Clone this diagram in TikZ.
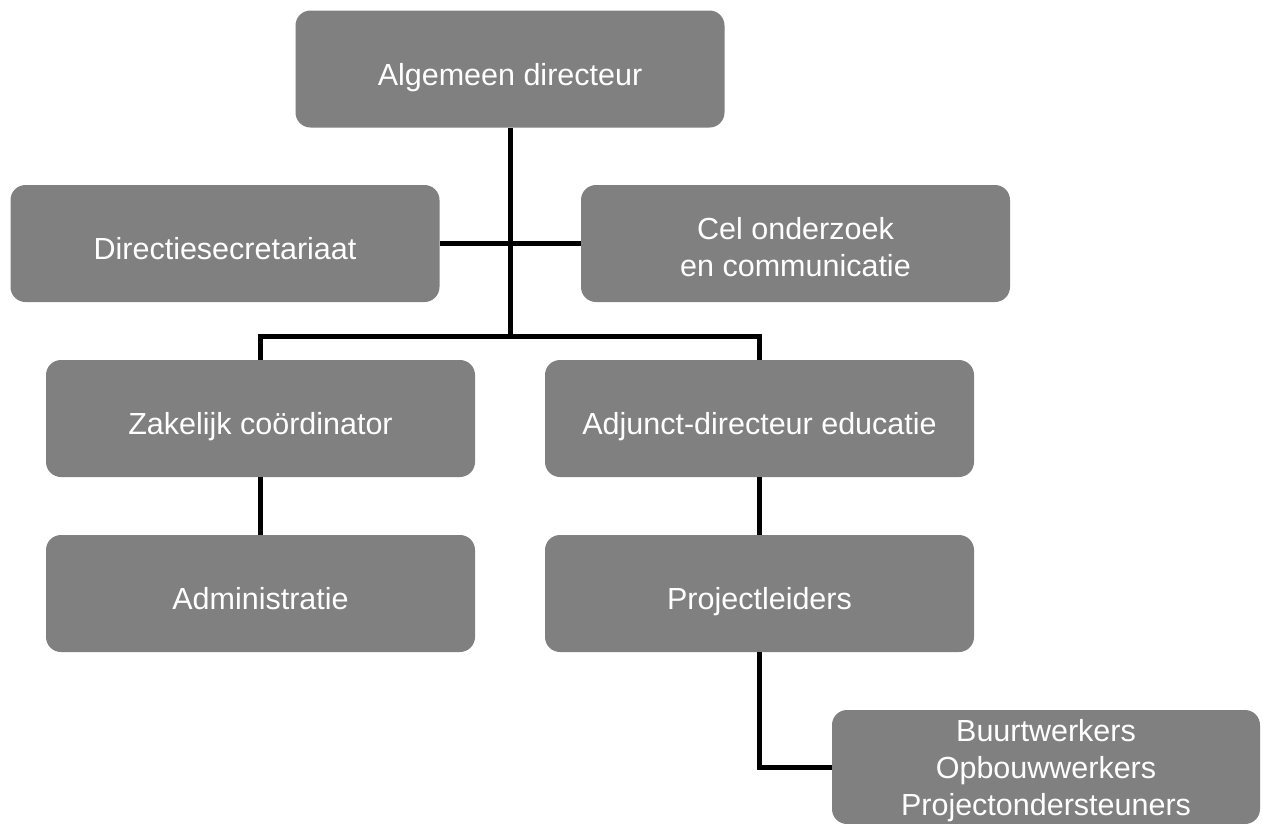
\documentclass[tikz,border=0pt]{standalone}
\usepackage{fontspec}
\setmainfont{Liberation Sans}
\definecolor{boxgray}{HTML}{808080}
\begin{document}
\begin{tikzpicture}[x=1pt,y=-1pt,
  box/.style={draw=none, fill=boxgray, rounded corners=15pt, minimum width=429pt, minimum height=117pt,
    inner sep=0pt},
  lbl/.style={inner sep=0pt, text=white, align=center, font=\fontsize{30.5}{37}\selectfont},
  one/.style={lbl, text height=22pt, text depth=6pt, yshift=-8pt},
  multi/.style={lbl, yshift=-4pt},
  conn/.style={line width=5pt, line join=miter, draw=black}]
\useasboundingbox (0,0) rectangle (1262,823);
\node[box] (top) at (510,69) {};
\node[box] (dir) at (225,243.5) {};
\node[box] (cel) at (795.5,243.5) {};
\node[box] (zak) at (260.5,418.5) {};
\node[box] (adj) at (759.5,418.5) {};
\node[box] (adm) at (260.5,593.5) {};
\node[box] (proj) at (759.5,593.5) {};
\node[box, minimum width=428pt, minimum height=114pt] (buurt) at (1046,767) {};
\node[one] (topt) at (top.center) {Algemeen directeur};
\node[one] (dirt) at (dir.center) {Directiesecretariaat};
\node[multi] (celt) at (cel.center) {Cel onderzoek\\en communicatie};
\node[one] (zakt) at (zak.center) {Zakelijk coördinator};
\node[one] (adjt) at (adj.center) {Adjunct-directeur educatie};
\node[one] (admt) at (adm.center) {Administratie};
\node[one] (projt) at (proj.center) {Projectleiders};
\node[multi] (buurtt) at (buurt.center) {Buurtwerkers\\Opbouwwerkers\\Projectondersteuners};
\coordinate (j) at (510,336);
\draw[conn] (top.south) -- (j);
\draw[conn] (dir.east) -- (cel.west);
\draw[conn] (zak.north) |- (j) -| (adj.north);
\draw[conn] (zak.south) -- (adm.north);
\draw[conn] (adj.south) -- (proj.north);
\draw[conn] (proj.south) |- (buurt.west);
\end{tikzpicture}
\end{document}
